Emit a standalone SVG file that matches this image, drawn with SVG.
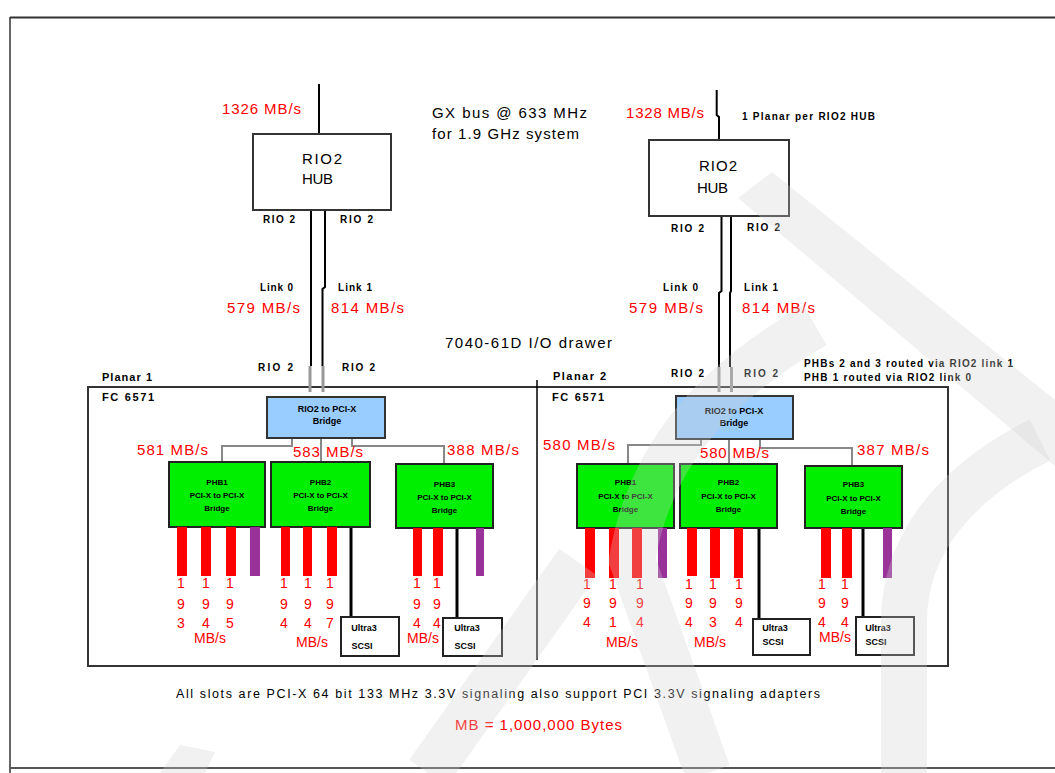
<svg xmlns="http://www.w3.org/2000/svg" width="1055" height="773" viewBox="0 0 1055 773">
<style>
text{font-family:"Liberation Sans",Arial,sans-serif;fill:#000}
.red{fill:#ff0000}
.big{font-size:15px}
.sm{font-size:10px;font-weight:bold}
.lbl{font-size:11px;font-weight:bold}
.br{font-size:9px;font-weight:bold;text-anchor:middle}
.phb{font-size:8px;font-weight:bold;text-anchor:middle}
.dig{font-size:14px;text-anchor:middle;fill:#ff0000}
.hub{fill:#fff;stroke:#333;stroke-width:2}
.bridge{fill:#99ccff;stroke:#333;stroke-width:2}
.phbbox{fill:#00ee00;stroke:#222;stroke-width:2}
.scsi{fill:#fff;stroke:#222;stroke-width:2}
.link{stroke:#000;stroke-width:2;fill:none}
.stub{stroke:#999;stroke-width:3;fill:none}
.conn{stroke:#888;stroke-width:2;fill:none}
.blk{stroke:#000;stroke-width:3;fill:none}
.rbar{fill:#ff0000}
.pbar{fill:#993399}
.wm{fill:#d0d0d0;opacity:0.3}
.wms{stroke:#d0d0d0;opacity:0.3;fill:none;stroke-width:46}
</style>

<g id="frame">
  <line x1="10" y1="17.5" x2="1055" y2="17.5" stroke="#333" stroke-width="2"/>
  <line x1="10" y1="17" x2="10" y2="773" stroke="#333" stroke-width="1.5"/>
  <line x1="10" y1="768" x2="1055" y2="768" stroke="#555" stroke-width="2"/>
</g>

<g id="planar-box">
  <rect x="88" y="387" width="860" height="279" fill="none" stroke="#333" stroke-width="2"/>
  <line x1="537" y1="380" x2="537" y2="660" stroke="#000" stroke-width="1.5"/>
  <text class="lbl" x="102" y="381" textLength="50">Planar 1</text>
  <text class="lbl" x="102" y="401" textLength="52">FC 6571</text>
  <text class="lbl" x="553" y="380" textLength="53">Planar 2</text>
  <text class="lbl" x="552" y="401" textLength="52">FC 6571</text>
</g>

<g id="connectors">
  <line class="link" x1="319" y1="84" x2="319" y2="134"/>
  <polyline class="link" points="716.7,90 716.7,115 719,117 719,140"/>
  <line class="link" x1="311" y1="210" x2="311" y2="366"/>
  <polyline class="link" points="325,210 325,287 322.5,289 322.5,366"/>
  <line class="stub" x1="310" y1="366" x2="310" y2="392"/>
  <line class="stub" x1="323" y1="366" x2="323" y2="392"/>
  <polyline class="link" points="721.5,216 721.5,291 719,293 719,367"/>
  <polyline class="link" points="731,216 731,291 730,293 730,367"/>
  <line class="stub" x1="719" y1="367" x2="719" y2="392"/>
  <line class="stub" x1="731.5" y1="367" x2="731.5" y2="392"/>
  <polyline class="conn" points="292,438 292,446 222,446 222,462"/>
  <line class="conn" x1="321" y1="438" x2="321" y2="462"/>
  <polyline class="conn" points="352,438 352,446 444,446 444,464"/>
  <polyline class="conn" points="701,439 701,445 628,445 628,464"/>
  <line class="conn" x1="729" y1="439" x2="729" y2="464"/>
  <polyline class="conn" points="760,439 760,448 852,448 852,466"/>
  <line class="blk" x1="351" y1="527" x2="351" y2="617"/>
  <line class="blk" x1="457" y1="528" x2="457" y2="618"/>
  <line class="blk" x1="759" y1="528" x2="759" y2="619"/>
  <line class="blk" x1="863" y1="528" x2="863" y2="617"/>
</g>

<g id="labels">
  <text class="big red" x="222" y="114" textLength="79">1326 MB/s</text>
  <text class="big" x="432" y="117.5" textLength="155">GX bus @ 633 MHz</text>
  <text class="big" x="432" y="138.5" textLength="147">for 1.9 GHz system</text>
  <text class="big red" x="626" y="118" textLength="78">1328 MB/s</text>
  <text class="sm" x="742" y="120.3" textLength="133">1 Planar per RIO2 HUB</text>

  <text class="sm" x="263" y="222.6" textLength="32">RIO 2</text>
  <text class="sm" x="340" y="222.6" textLength="33">RIO 2</text>
  <text class="sm" x="260" y="290.6" textLength="33">Link 0</text>
  <text class="sm" x="338" y="290.6" textLength="34">Link 1</text>
  <text class="big red" x="227" y="313.4" textLength="73">579 MB/s</text>
  <text class="big red" x="331" y="313.4" textLength="73">814 MB/s</text>
  <text class="sm" x="258" y="370.6" textLength="35">RIO 2</text>
  <text class="sm" x="342" y="370.6" textLength="33">RIO 2</text>

  <text class="sm" x="671" y="231.6" textLength="33">RIO 2</text>
  <text class="sm" x="747" y="230.6" textLength="33">RIO 2</text>
  <text class="sm" x="663" y="290.6" textLength="35">Link 0</text>
  <text class="sm" x="744" y="290.6" textLength="34">Link 1</text>
  <text class="big red" x="629" y="313.4" textLength="74">579 MB/s</text>
  <text class="big red" x="742" y="313.4" textLength="73">814 MB/s</text>
  <text class="sm" x="671" y="376.6" textLength="33">RIO 2</text>
  <text class="sm" x="744" y="376.6" textLength="34">RIO 2</text>

  <text class="big" x="445" y="348.4" textLength="167">7040-61D  I/O drawer</text>
  <text class="sm" x="804" y="366.6" textLength="209">PHBs 2 and 3 routed via RIO2 link 1</text>
  <text class="sm" x="804" y="380.6" textLength="167">PHB 1 routed via RIO2 link 0</text>

  <text class="big red" x="137" y="455.4" textLength="71">581 MB/s</text>
  <text class="big red" x="293" y="457.4" textLength="70">583 MB/s</text>
  <text class="big red" x="447" y="455.4" textLength="72">388 MB/s</text>
  <text class="big red" x="543" y="450.4" textLength="72">580 MB/s</text>
  <text class="big red" x="700" y="458.4" textLength="69">580 MB/s</text>
  <text class="big red" x="857" y="455.4" textLength="72">387 MB/s</text>

  <text x="176" y="697.5" font-size="12.5" textLength="644">All slots are PCI-X 64 bit 133 MHz 3.3V signaling also support PCI 3.3V signaling adapters</text>
  <text class="big red" x="455" y="730.4" textLength="167">MB = 1,000,000 Bytes</text>
</g>

<g id="hub-left">
  <rect class="hub" x="253" y="134" width="138" height="76"/>
  <text class="big" x="302" y="163.5" textLength="40">RIO2</text>
  <text class="big" x="302" y="183.5" textLength="31">HUB</text>
</g>
<g id="hub-right">
  <rect class="hub" x="649" y="140" width="140" height="76"/>
  <text class="big" x="699" y="170.5" textLength="38">RIO2</text>
  <text class="big" x="697" y="192.5" textLength="31">HUB</text>
</g>

<g id="bridge-left">
  <rect class="bridge" x="267" y="397" width="118" height="41"/>
  <text class="br" x="327" y="412.2">RIO2 to PCI-X</text>
  <text class="br" x="327" y="424.2">Bridge</text>
</g>
<g id="bridge-right">
  <rect class="bridge" x="676" y="396" width="117" height="43"/>
  <text class="br" x="734" y="414.2">RIO2 to PCI-X</text>
  <text class="br" x="734" y="426.2">Bridge</text>
</g>

<g id="phb1-left">
  <rect class="phbbox" x="169" y="462" width="96" height="65"/>
  <text class="phb" x="217" y="485">PHB1</text>
  <text class="phb" x="217" y="498">PCI-X to PCI-X</text>
  <text class="phb" x="217" y="511">Bridge</text>
</g>
<g id="phb2-left">
  <rect class="phbbox" x="271" y="462" width="99" height="65"/>
  <text class="phb" x="320.5" y="485">PHB2</text>
  <text class="phb" x="320.5" y="498">PCI-X to PCI-X</text>
  <text class="phb" x="320.5" y="511">Bridge</text>
</g>
<g id="phb3-left">
  <rect class="phbbox" x="396" y="464" width="97" height="64"/>
  <text class="phb" x="444.5" y="487">PHB3</text>
  <text class="phb" x="444.5" y="500">PCI-X to PCI-X</text>
  <text class="phb" x="444.5" y="513">Bridge</text>
</g>
<g id="phb1-right">
  <rect class="phbbox" x="577" y="464" width="97" height="64"/>
  <text class="phb" x="625.5" y="485">PHB1</text>
  <text class="phb" x="625.5" y="499">PCI-X to PCI-X</text>
  <text class="phb" x="625.5" y="512">Bridge</text>
</g>
<g id="phb2-right">
  <rect class="phbbox" x="680" y="464" width="97" height="64"/>
  <text class="phb" x="728.5" y="485">PHB2</text>
  <text class="phb" x="728.5" y="499">PCI-X to PCI-X</text>
  <text class="phb" x="728.5" y="512">Bridge</text>
</g>
<g id="phb3-right">
  <rect class="phbbox" x="805" y="466" width="97" height="62"/>
  <text class="phb" x="853.5" y="487">PHB3</text>
  <text class="phb" x="853.5" y="501">PCI-X to PCI-X</text>
  <text class="phb" x="853.5" y="514">Bridge</text>
</g>

<g id="slots-left">
  <rect class="rbar" x="177" y="527" width="10" height="49"/>
  <rect class="rbar" x="201" y="527" width="10" height="49"/>
  <rect class="rbar" x="226" y="527" width="10" height="49"/>
  <rect class="pbar" x="250" y="527" width="10" height="49"/>
  <rect class="rbar" x="281" y="527" width="9" height="49"/>
  <rect class="rbar" x="303" y="527" width="9" height="49"/>
  <rect class="rbar" x="327" y="527" width="10" height="49"/>
  <rect class="rbar" x="413" y="528" width="9" height="48"/>
  <rect class="rbar" x="433" y="528" width="10" height="48"/>
  <rect class="pbar" x="476" y="528" width="8" height="48"/>
</g>
<g id="slots-right">
  <rect class="rbar" x="585" y="528" width="10" height="50"/>
  <rect class="rbar" x="609" y="528" width="10" height="50"/>
  <rect class="rbar" x="632" y="528" width="10" height="50"/>
  <rect class="pbar" x="658" y="528" width="9" height="50"/>
  <rect class="rbar" x="687" y="528" width="10" height="48"/>
  <rect class="rbar" x="710" y="528" width="10" height="50"/>
  <rect class="rbar" x="734" y="528" width="9" height="50"/>
  <rect class="rbar" x="821" y="528" width="10" height="50"/>
  <rect class="rbar" x="842" y="528" width="10" height="50"/>
  <rect class="pbar" x="883" y="528" width="9" height="50"/>
</g>

<g id="rates-left">
  <text class="dig" x="181" y="588">1</text><text class="dig" x="181" y="609">9</text><text class="dig" x="181" y="628">3</text>
  <text class="dig" x="206" y="588">1</text><text class="dig" x="206" y="609">9</text><text class="dig" x="206" y="628">4</text>
  <text class="dig" x="230" y="588">1</text><text class="dig" x="230" y="609">9</text><text class="dig" x="230" y="628">5</text>
  <text class="dig" x="210" y="643">MB/s</text>
  <text class="dig" x="284" y="588">1</text><text class="dig" x="284" y="609">9</text><text class="dig" x="284" y="628">4</text>
  <text class="dig" x="308" y="588">1</text><text class="dig" x="308" y="609">9</text><text class="dig" x="308" y="628">4</text>
  <text class="dig" x="330" y="588">1</text><text class="dig" x="330" y="609">9</text><text class="dig" x="330" y="628">7</text>
  <text class="dig" x="312" y="647">MB/s</text>
  <text class="dig" x="417" y="588">1</text><text class="dig" x="417" y="609">9</text><text class="dig" x="417" y="628">4</text>
  <text class="dig" x="437" y="588">1</text><text class="dig" x="437" y="609">9</text><text class="dig" x="437" y="628">4</text>
  <text class="dig" x="423" y="643">MB/s</text>
</g>
<g id="rates-right">
  <text class="dig" x="587" y="589">1</text><text class="dig" x="587" y="608">9</text><text class="dig" x="587" y="627">4</text>
  <text class="dig" x="613" y="589">1</text><text class="dig" x="613" y="608">9</text><text class="dig" x="613" y="627">1</text>
  <text class="dig" x="640" y="589">1</text><text class="dig" x="640" y="608">9</text><text class="dig" x="640" y="627">4</text>
  <text class="dig" x="622" y="647">MB/s</text>
  <text class="dig" x="689" y="589">1</text><text class="dig" x="689" y="608">9</text><text class="dig" x="689" y="627">4</text>
  <text class="dig" x="713" y="589">1</text><text class="dig" x="713" y="608">9</text><text class="dig" x="713" y="627">3</text>
  <text class="dig" x="739" y="589">1</text><text class="dig" x="739" y="608">9</text><text class="dig" x="739" y="627">4</text>
  <text class="dig" x="710" y="647">MB/s</text>
  <text class="dig" x="822" y="589">1</text><text class="dig" x="822" y="608">9</text><text class="dig" x="822" y="627">4</text>
  <text class="dig" x="845" y="589">1</text><text class="dig" x="845" y="608">9</text><text class="dig" x="845" y="627">4</text>
  <text class="dig" x="835" y="642">MB/s</text>
</g>

<g id="scsi-left-1">
  <rect class="scsi" x="341" y="617" width="58" height="39"/>
  <text class="br" x="364" y="631">Ultra3</text>
  <text class="br" x="362" y="649">SCSI</text>
</g>
<g id="scsi-left-2">
  <rect class="scsi" x="443" y="618" width="59" height="38"/>
  <text class="br" x="467" y="631">Ultra3</text>
  <text class="br" x="465" y="649">SCSI</text>
</g>
<g id="scsi-right-1">
  <rect class="scsi" x="753" y="619" width="57" height="36"/>
  <text class="br" x="775" y="631">Ultra3</text>
  <text class="br" x="773" y="645">SCSI</text>
</g>
<g id="scsi-right-2">
  <rect class="scsi" x="856" y="617" width="58" height="38"/>
  <text class="br" x="878" y="631">Ultra3</text>
  <text class="br" x="876" y="645">SCSI</text>
</g>

<g id="watermark">
  <polygon class="wm" points="772,172 1055,400 1055,466 738,198"/>
  <path class="wms" d="M 815,325 C 720,380 650,450 632,560 L 708,773"/>
  <line class="wms" x1="428" y1="773" x2="578" y2="562"/>
  <path class="wms" d="M 1040,440 C 960,480 905,540 904,620 L 904,773"/>
  <polygon class="wm" points="160,773 205,773 215,752 180,745"/>
</g>
</svg>
